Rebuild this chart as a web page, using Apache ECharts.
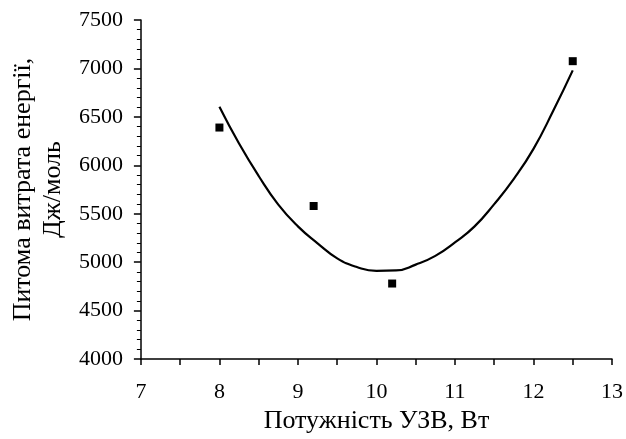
<!DOCTYPE html>
<html>
<head>
<meta charset="utf-8">
<script src="https://cdn.jsdelivr.net/npm/echarts@6/dist/echarts.min.js"></script>
<style>
html,body{margin:0;padding:0;background:#fff;}
#chart{width:626px;height:439px;}
</style>
</head>
<body>
<div id="chart"></div>
<script>
// Measured points
var pointX = [8, 9.2, 10.2, 12.5];
var pointY = [6390, 5580, 4780, 7075];
// Trend curve
var curveX = [8, 8.25, 8.5, 8.75, 9, 9.25, 9.5, 9.75, 10, 10.25, 10.5, 10.75, 11, 11.25, 11.5, 11.75, 12, 12.25, 12.5];
var curveY = [6605, 6225, 5890, 5595, 5370, 5195, 5040, 4950, 4910, 4915, 4975, 5065, 5205, 5370, 5600, 5860, 6170, 6560, 6980];
var xTicks = [7, 8, 9, 10, 11, 12, 13];
var yTicks = [4000, 4500, 5000, 5500, 6000, 6500, 7000, 7500];

var font = '"Liberation Serif", "Times New Roman", serif';
var chart = echarts.init(document.getElementById('chart'));
chart.setOption({
  backgroundColor: '#fff',
  animation: false,
  grid: {left: 135, right: 10, top: 20, bottom: 74},
  xAxis: {
    type: 'value',
    min: xTicks[0], max: xTicks[xTicks.length - 1], interval: 1,
    name: 'Потужність УЗВ, Вт',
    nameLocation: 'middle', nameGap: 40,
    nameTextStyle: {fontFamily: font, fontSize: 26, color: '#000'},
    axisLine: {show: true, onZero: false, lineStyle: {color: '#000', width: 1.5}},
    axisTick: {show: true, inside: false, length: 6, lineStyle: {color: '#000', width: 1.5}},
    minorTick: {show: true, splitNumber: 2, length: 6, lineStyle: {color: '#000', width: 1.5}},
    axisLabel: {fontFamily: font, fontSize: 22, color: '#000', margin: 22,
      formatter: function (v) { return String(v); }},
    splitLine: {show: false}
  },
  yAxis: {
    type: 'value',
    min: yTicks[0], max: yTicks[yTicks.length - 1], interval: 500,
    name: 'Питома витрата енергії,\nДж/моль',
    nameLocation: 'middle', nameGap: 67, nameRotate: 90,
    nameTextStyle: {fontFamily: font, fontSize: 26, color: '#000', lineHeight: 30},
    axisLine: {show: true, onZero: false, lineStyle: {color: '#000', width: 1.5}},
    axisTick: {show: true, inside: false, length: 7, lineStyle: {color: '#000', width: 1.5}},
    minorTick: {show: true, splitNumber: 5, length: 4, lineStyle: {color: '#000', width: 1}},
    axisLabel: {fontFamily: font, fontSize: 22, color: '#000', margin: 18,
      formatter: function (v) { return String(v); }},
    splitLine: {show: false}
  },
  series: [
    {
      type: 'line',
      data: curveX.map(function (x, i) { return [x, curveY[i]]; }),
      smooth: true,
      showSymbol: false,
      symbol: 'none',
      lineStyle: {color: '#000', width: 2.2},
      silent: true
    },
    {
      type: 'scatter',
      data: pointX.map(function (x, i) { return [x, pointY[i]]; }),
      symbol: 'rect',
      symbolSize: 8,
      itemStyle: {color: '#000', opacity: 1}
    }
  ]
});
</script>
</body>
</html>
